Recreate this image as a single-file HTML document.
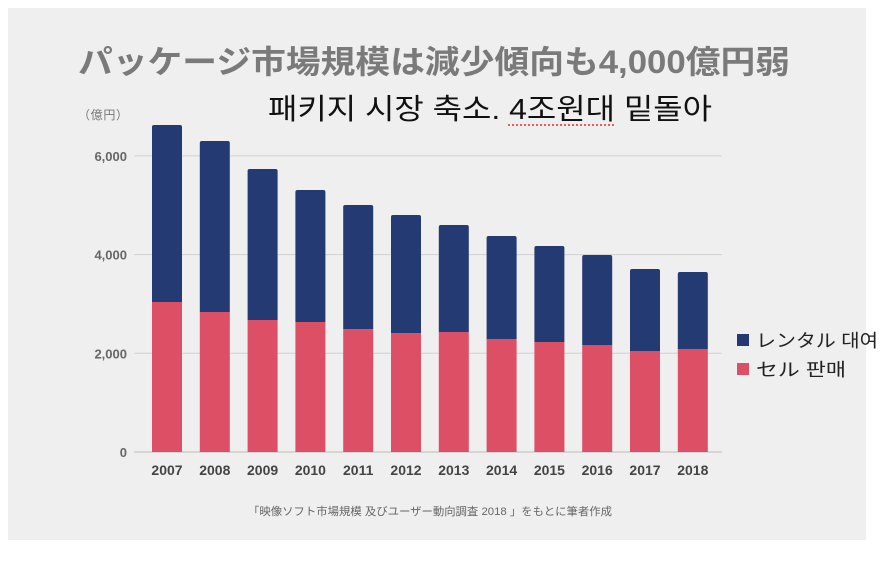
<!DOCTYPE html>
<html><head><meta charset="utf-8">
<style>
body{margin:0;background:#fff;width:892px;height:564px;overflow:hidden;font-family:"Liberation Sans","Noto Sans CJK JP",sans-serif;}
#panel{position:absolute;left:8px;top:8px;width:858px;height:532px;background:#efefef;}
</style></head><body>
<div id="panel"></div>
<svg id="chart" width="892" height="564" style="position:absolute;left:0;top:0">
<text x="78" y="73" font-size="32" font-weight="bold" fill="#7a7a7a" textLength="712" lengthAdjust="spacingAndGlyphs" font-family="Liberation Sans,Noto Sans CJK JP,sans-serif">パッケージ市場規模は減少傾向も4,000億円弱</text>
<text x="268" y="119" font-size="29" fill="#111" textLength="444" lengthAdjust="spacingAndGlyphs" font-family="Liberation Sans,Noto Sans CJK KR,sans-serif">패키지 시장 축소. 4조원대 밑돌아</text>
<line x1="508" y1="125" x2="614" y2="125" stroke="#e03030" stroke-width="1.5" stroke-dasharray="2,2"/>
<text x="78" y="119" font-size="12" fill="#777" textLength="50" font-family="Liberation Sans,Noto Sans CJK JP,sans-serif">（億円）</text>
<text x="248" y="515" font-size="11" fill="#666" textLength="364" lengthAdjust="spacingAndGlyphs" font-family="Liberation Sans,Noto Sans CJK JP,sans-serif">「映像ソフト市場規模 及びユーザー動向調査 2018 」をもとに筆者作成</text>
<g id="grid"></g><g id="bars"></g><g id="xlabels"></g>
<rect x="737" y="334" width="12" height="12" fill="#233a72"/>
<text x="756" y="347" font-size="18" fill="#222" textLength="122" lengthAdjust="spacingAndGlyphs" font-family="Liberation Sans,Noto Sans CJK JP,sans-serif">レンタル 대여</text>
<rect x="737" y="363" width="12" height="12" fill="#dc4f64"/>
<text x="756" y="376" font-size="18" fill="#222" textLength="90" lengthAdjust="spacingAndGlyphs" font-family="Liberation Sans,Noto Sans CJK JP,sans-serif">セル 판매</text>
</svg>
<script>
const years=["2007","2008","2009","2010","2011","2012","2013","2014","2015","2016","2017","2018"];
const sell=[3040,2837,2675,2634,2492,2411,2432,2290,2229,2168,2047,2087];
const rental=[3586,3465,3060,2675,2513,2392,2168,2087,1945,1824,1661,1560];
const yTicks=[0,2000,4000,6000];
const tickLabels=["0","2,000","4,000","6,000"];
const NS="http://www.w3.org/2000/svg";
function y(v){return 452-v*(98.7/2000);}
function x(i){return 167+i*47.8;}
function mk(t,a,p){const e=document.createElementNS(NS,t);for(const k in a)e.setAttribute(k,a[k]);p.appendChild(e);return e;}
const grid=document.getElementById('grid'),bars=document.getElementById('bars'),xl=document.getElementById('xlabels');
yTicks.forEach((v,i)=>{
 const l=mk('line',{x1:134,x2:722,y1:y(v),y2:y(v),stroke:v===0?'#bbb':'#d0d0d0','stroke-width':1},grid);
 
 
 const t=mk('text',{x:127,y:y(v)+5,'text-anchor':'end','font-size':13,'font-weight':'bold',fill:'#666'},grid);
 t.textContent=tickLabels[i];
 
 
});
years.forEach((yr,i)=>{
 const w=30,x0=x(i)-w/2;
 const tot=sell[i]+rental[i];
 const r=mk('path',{d:`M${x0},${y(sell[i])} V${y(tot)+2} Q${x0},${y(tot)} ${x0+2},${y(tot)} H${x0+w-2} Q${x0+w},${y(tot)} ${x0+w},${y(tot)+2} V${y(sell[i])} Z`,fill:'#233a72'},bars);
 
 
 const s=mk('rect',{x:x0,y:y(sell[i]),width:w,height:y(0)-y(sell[i]),fill:'#dc4f64'},bars);
 
 
 const t=mk('text',{x:x(i),y:475,'text-anchor':'middle','font-size':14,'font-weight':'bold',fill:'#444'},xl);
 t.textContent=yr;
 
 
});
</script>
</body></html>
